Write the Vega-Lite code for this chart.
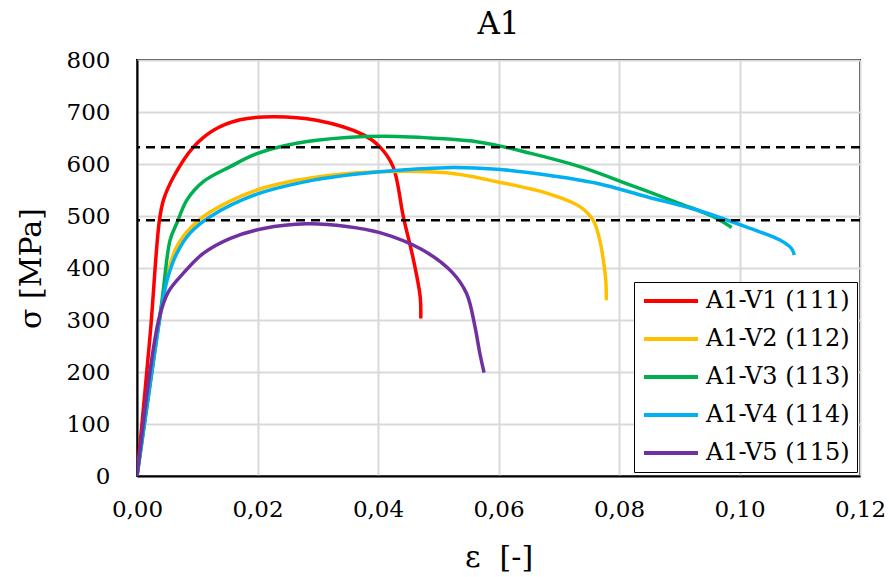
{
  "$schema": "https://vega.github.io/schema/vega-lite/v6.json",
  "width": 723,
  "height": 416,
  "autosize": {"type": "none"},
  "padding": {"left": 137, "top": 60, "right": 29, "bottom": 101},
  "background": "white",
  "title": {"text": "A1", "fontSize": 31, "font": "DejaVu Serif", "fontWeight": "normal", "color": "black", "offset": 8, "anchor": "middle"},
  "config": {
    "font": "DejaVu Serif",
    "view": {"stroke": "black", "strokeWidth": 2},
    "axis": {
      "labelFont": "DejaVu Serif", "labelFontSize": 23, "labelColor": "black",
      "titleFont": "DejaVu Serif", "titleFontSize": 30, "titleFontWeight": "normal", "titleColor": "black",
      "grid": true, "gridColor": "#d9d9d9", "gridWidth": 2,
      "domainColor": "black", "domainWidth": 2, "ticks": false,
      "labelFlush": false, "labelOverlap": false
    },
    "legend": {
      "labelFont": "DejaVu Serif", "labelFontSize": 24, "labelColor": "black"
    }
  },
  "datasets": {
    "curves": [
      {"s": "A1-V1 (111)", "e": 0, "sig": 0},
      {"s": "A1-V1 (111)", "e": 0.0022, "sig": 274},
      {"s": "A1-V1 (111)", "e": 0.0037, "sig": 490},
      {"s": "A1-V1 (111)", "e": 0.0044, "sig": 531},
      {"s": "A1-V1 (111)", "e": 0.0061, "sig": 576},
      {"s": "A1-V1 (111)", "e": 0.0094, "sig": 633},
      {"s": "A1-V1 (111)", "e": 0.0127, "sig": 665},
      {"s": "A1-V1 (111)", "e": 0.0171, "sig": 685},
      {"s": "A1-V1 (111)", "e": 0.0227, "sig": 691},
      {"s": "A1-V1 (111)", "e": 0.0298, "sig": 684},
      {"s": "A1-V1 (111)", "e": 0.0376, "sig": 656},
      {"s": "A1-V1 (111)", "e": 0.0403, "sig": 633},
      {"s": "A1-V1 (111)", "e": 0.0425, "sig": 595},
      {"s": "A1-V1 (111)", "e": 0.0442, "sig": 499},
      {"s": "A1-V1 (111)", "e": 0.0459, "sig": 415},
      {"s": "A1-V1 (111)", "e": 0.0470, "sig": 345},
      {"s": "A1-V1 (111)", "e": 0.0471, "sig": 303},

      {"s": "A1-V2 (112)", "e": 0, "sig": 0},
      {"s": "A1-V2 (112)", "e": 0.0044, "sig": 350},
      {"s": "A1-V2 (112)", "e": 0.0052, "sig": 395},
      {"s": "A1-V2 (112)", "e": 0.0066, "sig": 441},
      {"s": "A1-V2 (112)", "e": 0.0088, "sig": 476},
      {"s": "A1-V2 (112)", "e": 0.0122, "sig": 508},
      {"s": "A1-V2 (112)", "e": 0.0199, "sig": 550},
      {"s": "A1-V2 (112)", "e": 0.0293, "sig": 574},
      {"s": "A1-V2 (112)", "e": 0.0403, "sig": 585},
      {"s": "A1-V2 (112)", "e": 0.0514, "sig": 583},
      {"s": "A1-V2 (112)", "e": 0.0597, "sig": 566},
      {"s": "A1-V2 (112)", "e": 0.0680, "sig": 544},
      {"s": "A1-V2 (112)", "e": 0.0735, "sig": 518},
      {"s": "A1-V2 (112)", "e": 0.0757, "sig": 492},
      {"s": "A1-V2 (112)", "e": 0.0768, "sig": 454},
      {"s": "A1-V2 (112)", "e": 0.0774, "sig": 415},
      {"s": "A1-V2 (112)", "e": 0.0778, "sig": 377},
      {"s": "A1-V2 (112)", "e": 0.0779, "sig": 338},

      {"s": "A1-V3 (113)", "e": 0, "sig": 0},
      {"s": "A1-V3 (113)", "e": 0.0041, "sig": 333},
      {"s": "A1-V3 (113)", "e": 0.0055, "sig": 454},
      {"s": "A1-V3 (113)", "e": 0.0066, "sig": 486},
      {"s": "A1-V3 (113)", "e": 0.0083, "sig": 531},
      {"s": "A1-V3 (113)", "e": 0.0110, "sig": 566},
      {"s": "A1-V3 (113)", "e": 0.0155, "sig": 595},
      {"s": "A1-V3 (113)", "e": 0.0199, "sig": 620},
      {"s": "A1-V3 (113)", "e": 0.0265, "sig": 640},
      {"s": "A1-V3 (113)", "e": 0.0348, "sig": 651},
      {"s": "A1-V3 (113)", "e": 0.0431, "sig": 653},
      {"s": "A1-V3 (113)", "e": 0.0486, "sig": 650},
      {"s": "A1-V3 (113)", "e": 0.0569, "sig": 642},
      {"s": "A1-V3 (113)", "e": 0.0652, "sig": 621},
      {"s": "A1-V3 (113)", "e": 0.0735, "sig": 595},
      {"s": "A1-V3 (113)", "e": 0.0818, "sig": 560},
      {"s": "A1-V3 (113)", "e": 0.0901, "sig": 524},
      {"s": "A1-V3 (113)", "e": 0.0956, "sig": 499},
      {"s": "A1-V3 (113)", "e": 0.0987, "sig": 478},

      {"s": "A1-V4 (114)", "e": 0, "sig": 0},
      {"s": "A1-V4 (114)", "e": 0.0044, "sig": 345},
      {"s": "A1-V4 (114)", "e": 0.0052, "sig": 385},
      {"s": "A1-V4 (114)", "e": 0.0066, "sig": 428},
      {"s": "A1-V4 (114)", "e": 0.0088, "sig": 467},
      {"s": "A1-V4 (114)", "e": 0.0122, "sig": 499},
      {"s": "A1-V4 (114)", "e": 0.0199, "sig": 542},
      {"s": "A1-V4 (114)", "e": 0.0293, "sig": 569},
      {"s": "A1-V4 (114)", "e": 0.0403, "sig": 585},
      {"s": "A1-V4 (114)", "e": 0.0514, "sig": 593},
      {"s": "A1-V4 (114)", "e": 0.0597, "sig": 590},
      {"s": "A1-V4 (114)", "e": 0.0680, "sig": 579},
      {"s": "A1-V4 (114)", "e": 0.0763, "sig": 563},
      {"s": "A1-V4 (114)", "e": 0.0846, "sig": 537},
      {"s": "A1-V4 (114)", "e": 0.0928, "sig": 512},
      {"s": "A1-V4 (114)", "e": 0.1011, "sig": 479},
      {"s": "A1-V4 (114)", "e": 0.1067, "sig": 454},
      {"s": "A1-V4 (114)", "e": 0.1086, "sig": 438},
      {"s": "A1-V4 (114)", "e": 0.1091, "sig": 425},

      {"s": "A1-V5 (115)", "e": 0, "sig": 0},
      {"s": "A1-V5 (115)", "e": 0.0036, "sig": 300},
      {"s": "A1-V5 (115)", "e": 0.0052, "sig": 354},
      {"s": "A1-V5 (115)", "e": 0.0077, "sig": 390},
      {"s": "A1-V5 (115)", "e": 0.0110, "sig": 428},
      {"s": "A1-V5 (115)", "e": 0.0155, "sig": 457},
      {"s": "A1-V5 (115)", "e": 0.0210, "sig": 476},
      {"s": "A1-V5 (115)", "e": 0.0282, "sig": 485},
      {"s": "A1-V5 (115)", "e": 0.0348, "sig": 480},
      {"s": "A1-V5 (115)", "e": 0.0403, "sig": 468},
      {"s": "A1-V5 (115)", "e": 0.0472, "sig": 436},
      {"s": "A1-V5 (115)", "e": 0.0522, "sig": 393},
      {"s": "A1-V5 (115)", "e": 0.0547, "sig": 351},
      {"s": "A1-V5 (115)", "e": 0.0561, "sig": 287},
      {"s": "A1-V5 (115)", "e": 0.0569, "sig": 236},
      {"s": "A1-V5 (115)", "e": 0.0576, "sig": 199}
    ],
    "limits": [{"lim": 632}, {"lim": 492}]
  },
  "layer": [
    {
      "data": {"name": "curves"},
      "mark": {"type": "line", "strokeWidth": 3.5, "clip": true, "interpolate": "catmull-rom"},
      "encoding": {
        "x": {"field": "e", "type": "quantitative",
              "scale": {"domain": [0, 0.12], "nice": false},
              "axis": {"values": [0, 0.02, 0.04, 0.06, 0.08, 0.1, 0.12],
                       "labelExpr": "replace(format(datum.value, '.2f'), '.', ',')",
                       "labelPadding": 22, "title": "ε\u00a0 [-]", "titlePadding": 21}},
        "y": {"field": "sig", "type": "quantitative",
              "scale": {"domain": [0, 800], "nice": false},
              "axis": {"values": [0, 100, 200, 300, 400, 500, 600, 700, 800],
                       "labelPadding": 27, "title": "σ [MPa]", "titlePadding": 20}},
        "color": {"field": "s", "type": "nominal",
                  "scale": {"domain": ["A1-V1 (111)", "A1-V2 (112)", "A1-V3 (113)", "A1-V4 (114)", "A1-V5 (115)"],
                            "range": ["#FF0000", "#FFC000", "#00B050", "#00B0F0", "#7030A0"]},
                  "legend": {"title": null, "orient": "none", "legendX": 497, "legendY": 222,
                             "symbolType": "M-1,0L5,0", "symbolSize": 324, "symbolStrokeWidth": 4,
                             "strokeColor": "black", "fillColor": "white", "padding": 7,
                             "rowPadding": 14, "labelOffset": 41}},
        "order": {"value": null}
      }
    },
    {
      "data": {"name": "limits"},
      "mark": {"type": "rule", "color": "black", "strokeWidth": 2.5, "strokeDash": [9, 6]},
      "encoding": {"y": {"field": "lim", "type": "quantitative"}}
    }
  ]
}
